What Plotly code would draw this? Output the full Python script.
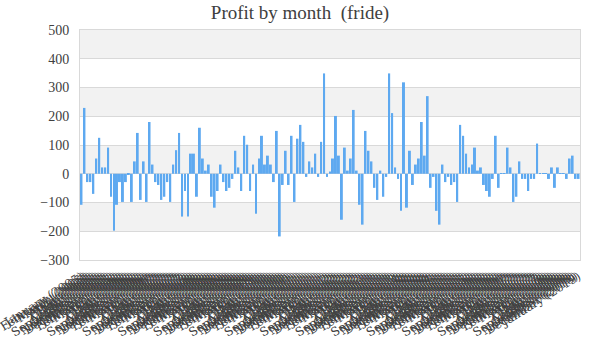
import plotly.graph_objects as go

month_names = ["January", "February", "March", "April", "May", "June", "July",
               "August", "September", "October", "November", "December"]
start_month = 0   # January
start_year = 2005

profit = [
    -108, 229, -29, -29, -70, 53, 125, 22, 22, 91,
    -80, -198, -108, -29, -98, -29, -2, -98, 43, 142,
    -91, 43, -98, 180, 32, -29, -39, -91, -80, -29,
    -98, 32, 82, 142, -149, -60, -149, 70, 70, -80,
    160, 53, 11, 32, -80, -118, -60, 32, -29, -60,
    -49, -18, 80, 22, -60, 132, 101, -60, 32, -139,
    53, 132, 32, 63, 32, -29, 149, -218, -39, 80,
    -39, 132, -98, 122, 170, 111, -11, 43, 22, 70,
    -11, 111, 349, -11, 8, 53, 201, 63, -160, 91,
    11, 53, 222, 11, -108, -177, 149, 80, 43, -49,
    -91, 11, -80, -11, 349, 211, 22, -18, -129, 318,
    -118, 80, -39, 32, 53, 180, 63, 270, -49, -11,
    -129, -177, 32, -29, -11, -39, -29, -98, 170, 132,
    70, 22, 32, 91, 11, 22, -39, -60, -80, -18,
    132, -49, 2, 2, 91, 22, -98, -80, 43, -18,
    -18, -60, -18, -18, 105, 2, 2, 2, -18, 22,
    -49, 22, 2, 2, -18, 53, 63, -18, -18,
]

labels = []
for i in range(len(profit)):
    m = (start_month + i) % 12
    y = start_year + (start_month + i) // 12
    labels.append(f"{month_names[m]} ({y})")

y_ticks = list(range(-300, 501, 100))
band_ranges = [(400, 500), (200, 300), (0, 100), (-200, -100)]

fig = go.Figure(go.Bar(x=labels, y=profit, marker_color="#5ea9f0",
                       marker_line_width=0))

shapes = []
for lo, hi in band_ranges:
    shapes.append(dict(type="rect", xref="paper", yref="y", x0=0, x1=1,
                       y0=lo, y1=hi, fillcolor="#f2f2f2", line_width=0,
                       layer="below"))

fig.update_layout(
    width=600, height=360,
    margin=dict(l=80, r=20, t=30, b=100, autoexpand=False),
    paper_bgcolor="white", plot_bgcolor="white",
    title=dict(text="Profit by month  (fride)", x=0.5, xanchor="center",
               y=0.965, yanchor="middle",
               font=dict(family="Liberation Serif", size=19, color="#404040")),
    bargap=0.33,
    showlegend=False,
    shapes=shapes,
)
fig.update_yaxes(range=[-300, 500], tickvals=y_ticks,
                 showgrid=True, gridcolor="#d9d9d9", gridwidth=1,
                 zeroline=True, zerolinecolor="#d9d9d9", zerolinewidth=1,
                 showline=True, linecolor="#d9d9d9", mirror=True,
                 ticks="", ticklabelstandoff=7,
                 tickfont=dict(family="Liberation Serif", size=14, color="#404040"),
                 automargin=False)
fig.update_xaxes(tickmode="array", tickvals=labels, ticktext=labels,
                 tickangle=-32, showgrid=False,
                 showline=True, linecolor="#d9d9d9", mirror=True,
                 ticks="", ticklabelstandoff=4,
                 tickfont=dict(family="DejaVu Serif", size=12, color="#404040"),
                 automargin=False)

fig.write_html("out.html", config={"displayModeBar": False},
               post_script="document.body.style.margin='0';")
